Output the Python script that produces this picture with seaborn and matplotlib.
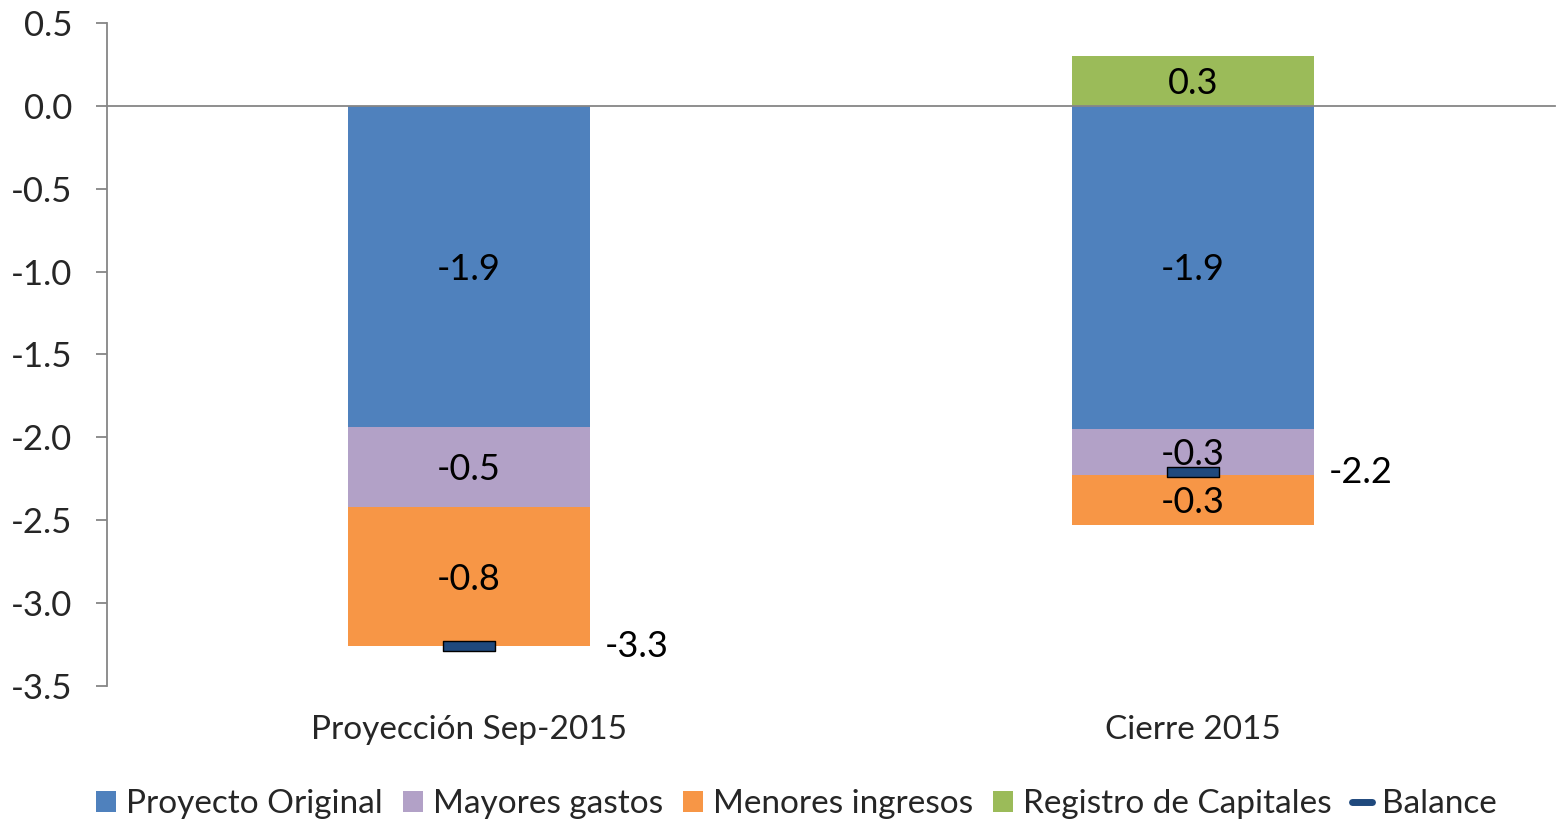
import numpy as np
import pandas as pd
import matplotlib
matplotlib.use("Agg")
import matplotlib.pyplot as plt
import seaborn as sns
from matplotlib.patches import Patch
from matplotlib.lines import Line2D
from matplotlib.path import Path

# data
categories = ["Proyección Sep-2015", "Cierre 2015"]
proyecto_original = [-1.94, -1.95]
mayores_gastos = [-0.48, -0.28]
menores_ingresos = [-0.84, -0.30]
registro_capitales = [0.0, 0.30]
balance = [-3.26, -2.21]

series_names = ["Proyecto Original", "Mayores gastos", "Menores ingresos",
                "Registro de Capitales", "Balance"]
colors = {"Proyecto Original": "#4F81BD", "Mayores gastos": "#B2A1C7",
          "Menores ingresos": "#F79646", "Registro de Capitales": "#9BBB59",
          "Balance": "#1F497D"}
axis_gray = "#868686"

sns.set_style("white")
plt.rcParams["font.family"] = ["Lato", "DejaVu Sans"]
FS = 24        # category labels, legend
FS_TICK = 25   # y tick labels
FS_DATA = 26   # labels in/next to the bars

df = pd.DataFrame({
    "cat": categories,
    "po": proyecto_original,
    "mg": mayores_gastos,
    "mi": menores_ingresos,
    "rc": registro_capitales,
    "bal": balance,
})
# cumulative ends for the negative stack (drawn largest first, then overlaid)
df["c1"] = df["po"]
df["c2"] = df["po"] + df["mg"]
df["c3"] = df["po"] + df["mg"] + df["mi"]

fig = plt.figure(figsize=(15.57, 8.22), dpi=100)
ax = fig.add_axes([0.0687, 0.1655, 0.9300, 0.8065])

W = 0.333
sns.barplot(data=df, x="cat", y="c3", color=colors["Menores ingresos"], width=W,
            saturation=1, linewidth=0, ax=ax)
sns.barplot(data=df, x="cat", y="c2", color=colors["Mayores gastos"], width=W,
            saturation=1, linewidth=0, ax=ax)
sns.barplot(data=df, x="cat", y="c1", color=colors["Proyecto Original"], width=W,
            saturation=1, linewidth=0, ax=ax)
sns.barplot(data=df, x="cat", y="rc", color=colors["Registro de Capitales"], width=W,
            saturation=1, linewidth=0, ax=ax)

# balance marker: flat rectangle
rect = Path([(-1, -0.2), (1, -0.2), (1, 0.2), (-1, 0.2), (-1, -0.2)],
            [Path.MOVETO, Path.LINETO, Path.LINETO, Path.LINETO, Path.CLOSEPOLY])
sns.scatterplot(data=df, x="cat", y="bal", marker=rect, s=1350,
                color=colors["Balance"], edgecolor="black", linewidth=1,
                zorder=5, ax=ax)

# segment labels
for i, row in df.iterrows():
    segs = [(0, row["po"]), (row["c1"], row["mg"]), (row["c2"], row["mi"])]
    for start, val in segs:
        if val != 0:
            ax.text(i, start + val / 2 - 0.015, f"{val:.1f}", ha="center", va="center",
                    fontsize=FS_DATA, color="black", zorder=6)
    if row["rc"] != 0:
        ax.text(i, row["rc"] / 2 - 0.015, f"{row['rc']:.1f}", ha="center", va="center",
                fontsize=FS_DATA, color="black", zorder=6)
    ax.text(i + 0.232, row["bal"], f"{row['bal']:.1f}", ha="center", va="center",
            fontsize=FS_DATA, color="black", zorder=6)

ax.set_xlim(-0.5, 1.5)
ax.set_ylim(-3.5, 0.5)
ax.set_yticks(np.arange(-3.5, 0.51, 0.5))
ax.set_yticklabels([f"{v:.1f}" for v in np.arange(-3.5, 0.51, 0.5)])
ax.set_xlabel("")
ax.set_ylabel("")

for side in ["top", "right"]:
    ax.spines[side].set_visible(False)
ax.spines["left"].set_color(axis_gray)
ax.spines["left"].set_linewidth(1.3)
ax.spines["bottom"].set_position(("data", 0))
ax.spines["bottom"].set_color(axis_gray)
ax.spines["bottom"].set_linewidth(1.3)

ax.set_xticks([-0.5, 0.5, 1.5])
ax.set_xticklabels(["", "", ""])
ax.tick_params(axis="x", direction="out", length=7, width=1.3, color=axis_gray)
ax.tick_params(axis="y", direction="out", length=8, width=1.3, color=axis_gray,
               labelsize=FS_TICK, pad=17, left=True)

sec = ax.secondary_xaxis("bottom")
sec.set_xticks([0, 1])
sec.set_xticklabels(categories)
sec.tick_params(length=0, labelsize=FS, pad=21)
sec.spines["bottom"].set_visible(False)

handles = [Patch(facecolor=colors[n], edgecolor="none") for n in series_names[:4]]
handles.append(Line2D([0], [0], color=colors["Balance"], lw=5))
fig.legend(handles, series_names, loc="center", bbox_to_anchor=(0.5116, 0.022),
           ncol=5, frameon=False, fontsize=FS, handlelength=0.6, handleheight=0.6,
           handletextpad=0.3, columnspacing=0.6)

fig.savefig("out.png", dpi=100)
